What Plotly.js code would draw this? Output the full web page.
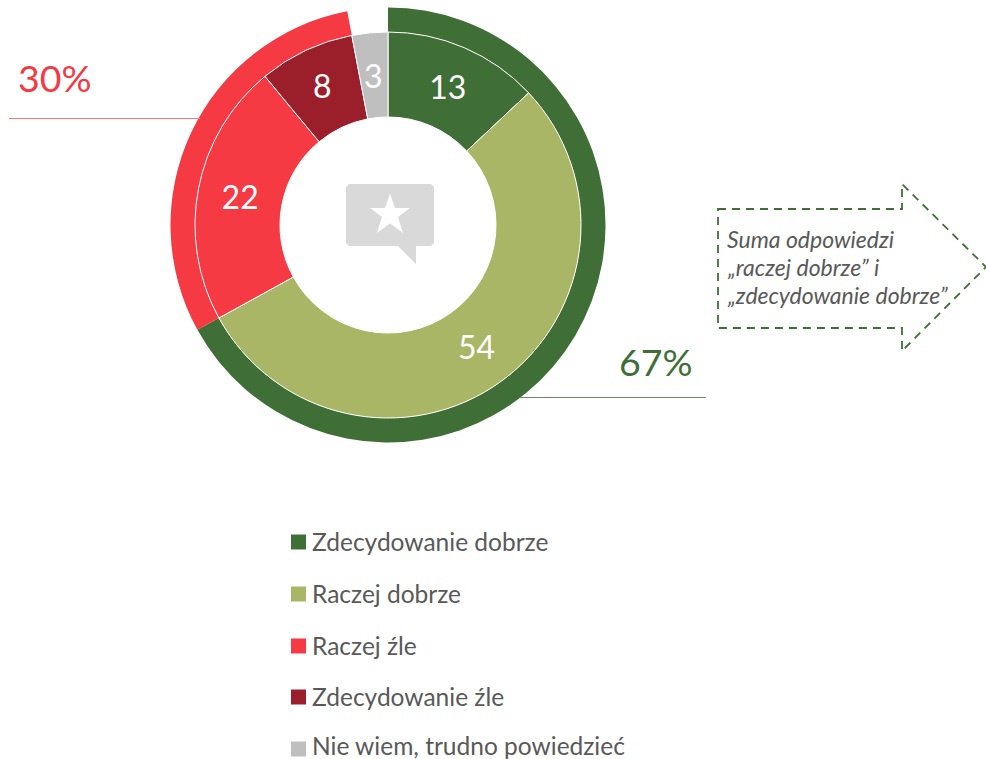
<!DOCTYPE html>
<html><head><meta charset="utf-8">
<script src="https://cdn.plot.ly/plotly-3.0.0.min.js"></script>
<style>html,body{margin:0;padding:0;background:#fff;overflow:hidden}#c{width:986px;height:759px}</style>
</head><body><div id="c"></div>
<script>
const W = 986, H = 759;
const categories = ["Zdecydowanie dobrze", "Raczej dobrze", "Raczej źle", "Zdecydowanie źle", "Nie wiem, trudno powiedzieć"];
const values = [13, 54, 22, 8, 3];
const colors = ["#3F6F37", "#A9B665", "#F53A44", "#9B1F2B", "#BFBFBF"];
const groupLabels = ["Dobrze razem", "Źle razem", "Nie wiem"];
const groupValues = [67, 30, 3];
const groupColors = ["#3F6F37", "#F53A44", "rgba(0,0,0,0)"];
const calloutTexts = ["30%", "67%"];
const arrowLines = ["Suma odpowiedzi", "„raczej dobrze” i", "„zdecydowanie dobrze”"];

const FONT = "Lato, 'Open Sans', sans-serif";
const cx = 388, cy = 225, rOuter = 217.5, rInner = 193, rHole = 108;
const px = x => x / W, py = y => 1 - y / H;
const dom = r => ({x: [px(cx - r), px(cx + r)], y: [py(cy + r), py(cy - r)]});
const path = pts => pts.map((p, i) => (i ? "L" : "M") + px(p[0]) + "," + py(p[1])).join(" ") + " Z";

const total = values.reduce((a, b) => a + b, 0);
const lastIdx = values.length - 1;
// the narrowest slice would be shrunk by the pie's own text fitting, so its label is placed from its value
const midFrac = (total - values[lastIdx] / 2) / total;
const midR = (rInner + rHole) / 2;
const lastX = cx + midR * Math.sin(2 * Math.PI * midFrac);
const lastY = cy - midR * Math.cos(2 * Math.PI * midFrac);

const traces = [
  {type: "pie", values: groupValues, labels: groupLabels, sort: false, direction: "clockwise", rotation: 0,
   hole: rInner / rOuter, domain: dom(rOuter), textinfo: "none", hoverinfo: "skip",
   marker: {colors: groupColors, line: {width: 0}}},
  {type: "pie", values: values, labels: categories, sort: false, direction: "clockwise", rotation: 0,
   hole: rHole / rInner, domain: dom(rInner), text: values.map((v, i) => i === lastIdx ? "" : String(v)),
   textinfo: "text", textposition: "inside",
   insidetextorientation: "horizontal", insidetextfont: {family: FONT, size: 32, color: "#FFFFFF"},
   marker: {colors: colors, line: {color: "#FFFFFF", width: 1}}}
];

const shapes = [
  {type: "line", xref: "paper", yref: "paper", x0: px(9), x1: px(200), y0: py(118.5), y1: py(118.5), line: {color: "#F7757C", width: 1}},
  {type: "line", xref: "paper", yref: "paper", x0: px(520), x1: px(706), y0: py(397.5), y1: py(397.5), line: {color: "#668C5F", width: 1}},
  {type: "path", xref: "paper", yref: "paper", fillcolor: "rgba(0,0,0,0)",
   path: path([[718,209],[902,209],[902,184],[986,267],[902,351],[902,328],[718,328]]),
   line: {color: "#3F6F37", width: 1.8, dash: "8px,6px"}},
  {type: "path", xref: "paper", yref: "paper", fillcolor: "#D9D9D9", line: {width: 0},
   path: path([[349,184],[431,184],[434,187],[434,243],[431,246],[416,246],[416,264],[398,246],[349,246],[346,243],[346,187]])},
  {type: "path", xref: "paper", yref: "paper", fillcolor: "#FFFFFF", line: {width: 0},
   path: path([[390,193.5],[395,208],[410,208],[398,217],[403,233],[390,223.5],[377,233],[382,217],[370,208],[385,208]])}
];

const annotations = [
  {x: px(55), y: py(77), text: calloutTexts[0], font: {family: FONT, size: 37.5, color: "#F53A44"}},
  {x: px(656), y: py(361.5), text: calloutTexts[1], font: {family: FONT, size: 37.5, color: "#3F6F37"}},
  {x: px(lastX), y: py(lastY), text: String(values[lastIdx]), font: {family: FONT, size: 32, color: "#FFFFFF"}}
].map(a => Object.assign(a, {xref: "paper", yref: "paper", showarrow: false, xanchor: "center", yanchor: "middle"}));

const arrowY = [239, 267, 295];
arrowLines.forEach((t, i) => annotations.push({xref: "paper", yref: "paper", x: px(725), y: py(arrowY[i]),
  text: "<i>" + t + "</i>", showarrow: false, xanchor: "left", yanchor: "middle",
  font: {family: FONT, size: 23, color: "#595959"}}));

const legendY = [542, 594, 646, 697, 749];
const legendTextY = [541, 593, 645, 696, 745.5];
categories.forEach((t, i) => {
  shapes.push({type: "rect", xref: "paper", yref: "paper", x0: px(291), x1: px(306),
    y0: py(legendY[i] - 7.5), y1: py(legendY[i] + 7.5), fillcolor: colors[i], line: {width: 0}});
  annotations.push({xref: "paper", yref: "paper", x: px(310), y: py(legendTextY[i]), text: t, showarrow: false,
    xanchor: "left", yanchor: "middle", font: {family: FONT, size: 24.5, color: "#595959"}});
});

Plotly.newPlot("c", traces, {
  width: W, height: H, margin: {l: 0, r: 0, t: 0, b: 0}, showlegend: false,
  paper_bgcolor: "#FFFFFF", plot_bgcolor: "#FFFFFF", shapes, annotations
}, {displayModeBar: false, staticPlot: true});
</script></body></html>
